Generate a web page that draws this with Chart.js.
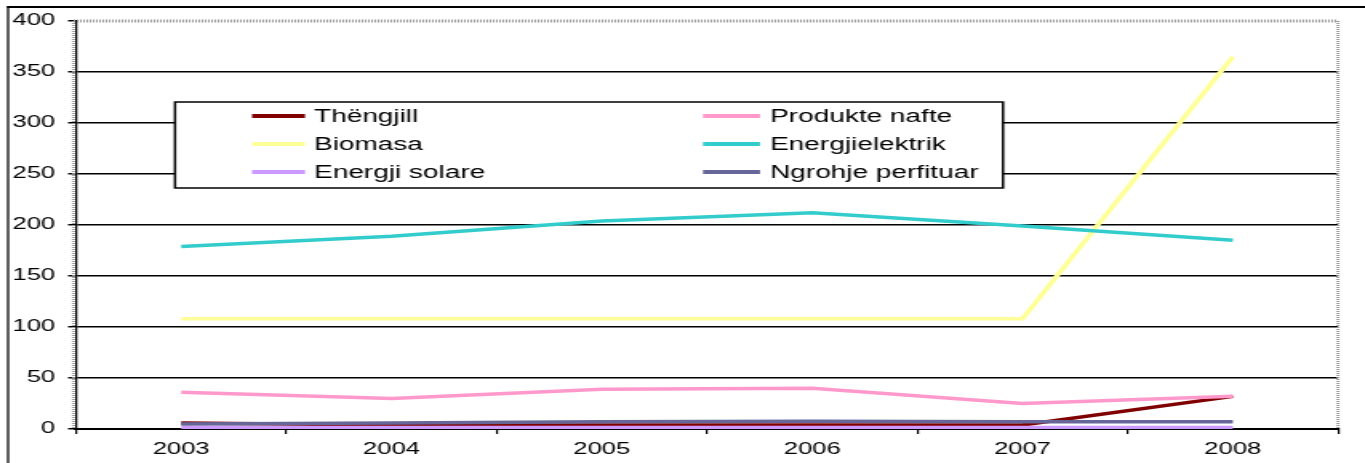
<!DOCTYPE html>
<html><head><meta charset="utf-8">
<script src="https://cdn.jsdelivr.net/npm/chart.js@4/dist/chart.umd.min.js"></script>
<style>html,body{margin:0;padding:0;background:#fff;overflow:hidden}
#c{display:block;width:1365px !important;height:463px !important}</style>
</head><body>
<canvas id="c" width="853" height="463" style="width:1365px;height:463px"></canvas>
<script>
const categories = ['2003','2004','2005','2006','2007','2008'];
const seriesNames = ['Thëngjill','Produkte nafte','Biomasa','Energjielektrik','Energji solare','Ngrohje perfituar'];
const thengjill = [6, 4, 4, 4, 4, 32];
const produkteNafte = [36, 30, 39, 40, 25, 32];
const biomasa = [108, 108, 108, 108, 108, 365];
const energjielektrik = [179, 189, 204, 212, 199, 185];
const energjiSolare = [1.5, 1.5, 1.5, 1.5, 1.5, 1.5];
const ngrohjePerfituar = [5, 6, 7, 7.5, 7, 7];
const yTicks = [0, 50, 100, 150, 200, 250, 300, 350, 400];
const seriesColors = ['#800000','#FF99CC','#FFFF99','#33CCCC','#CC99FF','#666699'];
const seriesValues = [thengjill, produkteNafte, biomasa, energjielektrik, energjiSolare, ngrohjePerfituar];

const W = 853, H = 463, S = 1365 / W;
const px = v => v / S;
const FONT = "'Liberation Sans', Arial, sans-serif";

const decor = {
  id: 'decor',
  beforeDatasetsDraw(chart) {
    const ctx = chart.ctx, a = chart.chartArea;
    ctx.save();
    ctx.strokeStyle = '#9a9a9a';
    ctx.setLineDash([1, 1]);
    ctx.lineWidth = 3;
    ctx.beginPath(); ctx.moveTo(a.left - 1.5, a.top); ctx.lineTo(a.right, a.top); ctx.stroke();
    ctx.lineWidth = 2;
    ctx.beginPath(); ctx.moveTo(a.right, a.top); ctx.lineTo(a.right, a.bottom); ctx.stroke();
    ctx.beginPath(); ctx.moveTo(a.left - 1.6, a.top); ctx.lineTo(a.left - 1.6, a.bottom); ctx.stroke();
    ctx.restore();
  },
  afterDraw(chart) {
    const ctx = chart.ctx;
    ctx.save();
    ctx.fillStyle = '#000';
    ctx.fillRect(px(7), 6, px(2), H);
    ctx.fillRect(px(7), 6, W, 2);
    const x1 = px(175), x2 = px(1003), y1 = 102, y2 = 188;
    ctx.fillStyle = '#fff';
    ctx.fillRect(x1, y1, x2 - x1, y2 - y1);
    ctx.strokeStyle = '#000';
    ctx.lineWidth = 1.5;
    ctx.strokeRect(x1, y1, x2 - x1, y2 - y1);
    const rows = [116, 144, 172];
    const lx1 = [px(252), px(703)], lx2 = [px(305), px(760)], tx = [px(314), px(770)];
    ctx.font = '17.5px ' + FONT;
    ctx.textBaseline = 'middle';
    chart.data.datasets.forEach((ds, i) => {
      const col = i % 2, row = Math.floor(i / 2);
      const y = rows[row];
      ctx.strokeStyle = ds.borderColor;
      ctx.lineWidth = 4;
      ctx.beginPath(); ctx.moveTo(lx1[col], y); ctx.lineTo(lx2[col], y); ctx.stroke();
      ctx.fillStyle = '#000';
      ctx.fillText(ds.label, tx[col], y + 1);
    });
    ctx.restore();
  }
};

new Chart(document.getElementById('c'), {
  type: 'line',
  data: {
    labels: categories,
    datasets: seriesNames.map((name, i) => ({
      label: name,
      data: seriesValues[i],
      borderColor: seriesColors[i],
      backgroundColor: seriesColors[i],
      borderWidth: 3.5,
      pointRadius: 0,
      tension: 0,
      fill: false,
      order: seriesNames.length - i
    }))
  },
  options: {
    responsive: false,
    animation: false,
    devicePixelRatio: 1,
    layout: { padding: { left: 0, right: W - px(1338), top: 21, bottom: 0 } },
    plugins: { legend: { display: false }, tooltip: { enabled: false } },
    scales: {
      x: {
        offset: true,
        grid: { offset: true, drawOnChartArea: false, drawTicks: true, tickLength: 5, color: '#000', lineWidth: 1.2 },
        border: { display: true, color: '#000', width: 2 },
        ticks: { color: '#000', font: { family: FONT, size: 16 }, padding: 6, maxRotation: 0 },
        afterFit(s) { s.height = H - 429; }
      },
      y: {
        min: 0, max: 400,
        afterBuildTicks(s) { s.ticks = yTicks.map(v => ({ value: v })); },
        grid: {
          color: c => (c.tick && c.tick.value === 400) ? 'rgba(0,0,0,0)' : '#000',
          tickColor: '#000', lineWidth: 1.5, tickLength: 5
        },
        border: { display: true, color: '#000', width: 1.25 },
        ticks: { color: '#000', font: { family: FONT, size: 16 }, padding: 8 },
        afterFit(s) { s.width = px(76); }
      }
    }
  },
  plugins: [decor]
});
</script>
</body></html>
